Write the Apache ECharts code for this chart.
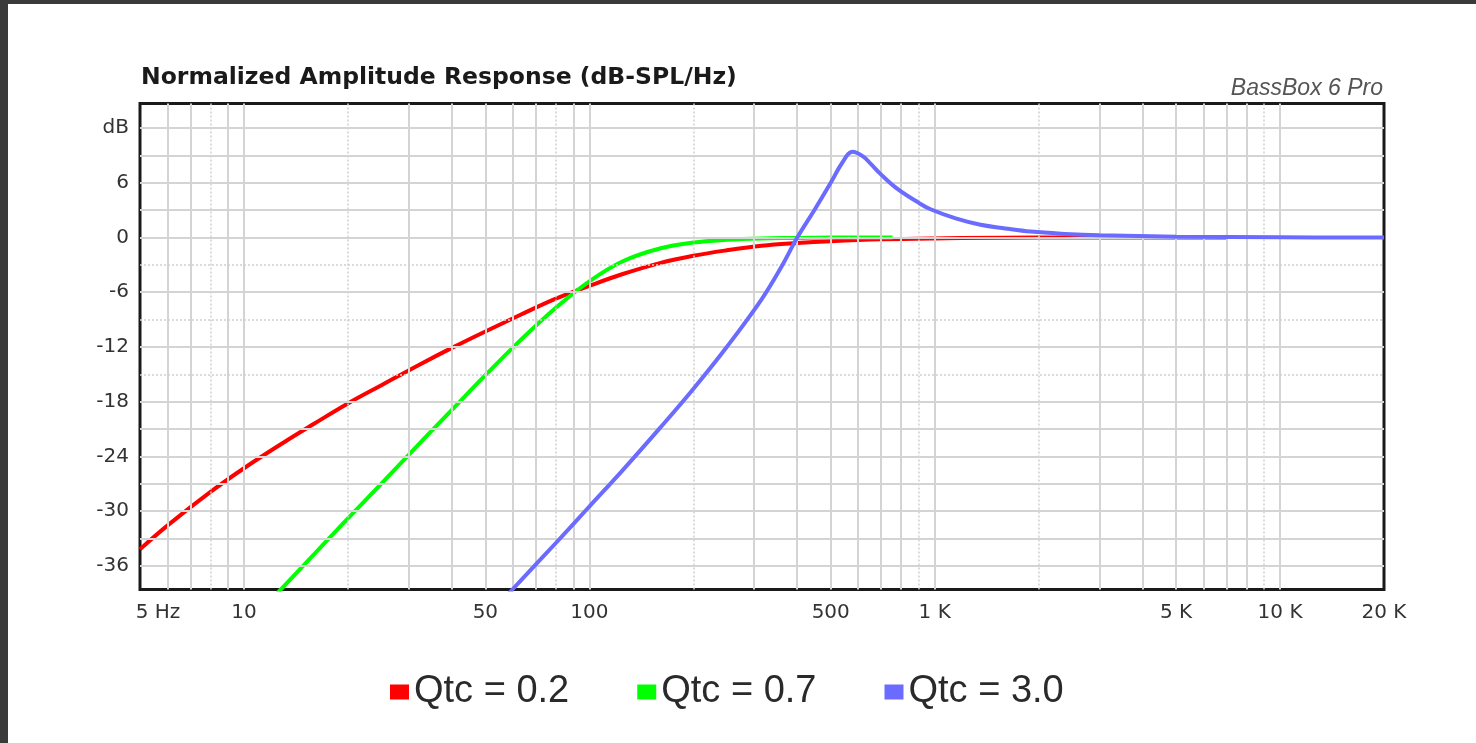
<!DOCTYPE html>
<html>
<head>
<meta charset="utf-8">
<script src="https://cdn.jsdelivr.net/npm/echarts@6/dist/echarts.min.js"></script>
<style>
  html, body { margin: 0; padding: 0; background: #3a3a3a; overflow: hidden; }
  #chart { position: absolute; left: 8px; top: 4px; width: 1468px; height: 739px; background: #fff; }
</style>
</head>
<body>
<div id="chart"></div>
<script>
// frequency (Hz) / level (dB)
const redFreq = [5, 6, 8, 10, 13, 16, 20, 25, 32, 40, 50, 63, 80, 100, 125, 160, 200, 250, 315, 400, 500, 700, 1000, 2000, 4000, 7000]
const redDb = [-34.2, -31.6, -27.9, -25.3, -22.5, -20.4, -18.2, -16.2, -14.0, -12.1, -10.3, -8.5, -6.7, -5.3, -4.0, -2.8, -2.0, -1.4, -0.9, -0.6, -0.4, -0.2, -0.1, 0, 0, 0]

const greenFreq = [12, 13, 16, 20, 25, 32, 40, 50, 63, 80, 100, 125, 160, 200, 250, 315, 400, 500, 755]
const greenDb = [-39.7, -38.3, -34.7, -30.8, -27.0, -22.7, -18.9, -15.1, -11.3, -7.7, -4.8, -2.6, -1.2, -0.55, -0.25, -0.1, -0.05, 0, 0]

const blueFreq = [56, 63, 80, 100, 125, 160, 200, 250, 315, 360, 400, 450, 500, 540, 578, 620, 652, 700, 782, 900, 973, 1150, 1358, 1600, 1897, 2383, 3000, 5000, 10000, 20000]
const blueDb = [-39.8, -37.7, -33.5, -29.5, -25.5, -20.9, -16.6, -12.0, -6.8, -3.2, 0, 3.1, 6.0, 8.2, 9.4, 8.9, 8.1, 6.9, 5.3, 3.8, 3.1, 2.1, 1.4, 1.0, 0.65, 0.4, 0.25, 0.1, 0.03, 0]

const seriesNames = ['Qtc = 0.2', 'Qtc = 0.7', 'Qtc = 3.0']
const seriesColors = ['#ff0000', '#00ff00', '#6b6bff']

// axis labels
const xLabelValues = [5, 10, 50, 100, 500, 1000, 5000, 10000, 20000]
const xLabelText = ['5 Hz', '10', '50', '100', '500', '1 K', '5 K', '10 K', '20 K']
const yLabelValues = [12, 6, 0, -6, -12, -18, -24, -30, -36]

// grid lines
const xGridFreq = [6, 7, 8, 9, 10, 20, 30, 40, 50, 60, 70, 80, 90, 100, 200, 300, 400, 500, 600, 700, 800, 900,
  1000, 2000, 3000, 4000, 5000, 6000, 7000, 8000, 9000, 10000]
const xGridDotted = [8, 20, 80, 200, 900, 2000, 9000]
const yGridDb = [12, 9, 6, 3, 0, -3, -6, -9, -12, -15, -18, -21, -24, -27, -30, -33, -36]
const yGridDotted = [-3, -9, -15]

const pairs = (xs, ys) => xs.map((x, i) => [x, ys[i]])

const chart = echarts.init(document.getElementById('chart'))

const gridSolid = { color: '#d4d4d4', width: 2, type: 'solid' }
const gridDot = { color: '#d0d0d0', width: 1.5, type: [2, 2] }
const axisFont = { fontFamily: 'DejaVu Sans', fontSize: 20, color: '#333' }

const markData = [
  ...xGridFreq.map(f => ({ xAxis: f, lineStyle: xGridDotted.includes(f) ? gridDot : gridSolid })),
  ...yGridDb.map(d => ({ yAxis: d, lineStyle: yGridDotted.includes(d) ? gridDot : gridSolid })),
]

// frequency labels hung under the plot on invisible vertical marker lines
const xLabelMarks = xLabelValues.map((f, i) => ({
  xAxis: f,
  lineStyle: { color: 'rgba(255,255,255,0)', width: 1, opacity: 1 },
  label: {
    show: true,
    position: 'start',
    distance: 13,
    formatter: xLabelText[i],
    offset: i === 0 ? [18, 0] : [0, 0],
    opacity: 1,
    ...axisFont,
  },
}))

const curves = [pairs(redFreq, redDb), pairs(greenFreq, greenDb), pairs(blueFreq, blueDb)]

chart.setOption({
  animation: false,
  title: [
    {
      text: 'Normalized Amplitude Response (dB-SPL/Hz)',
      left: 133,
      top: 62,
      padding: 0,
      textStyle: { fontFamily: 'DejaVu Sans', fontWeight: 'bold', fontSize: 23.5, color: '#1a1a1a' },
    },
    {
      text: 'BassBox 6 Pro',
      right: 93,
      top: 73,
      padding: 0,
      textStyle: { fontFamily: 'Liberation Sans', fontStyle: 'italic', fontWeight: 'normal', fontSize: 23, color: '#555' },
    },
  ],
  grid: {
    left: 132, right: 92, top: 99.5, bottom: 153.5,
    show: true, borderColor: '#1a1a1a', borderWidth: 3, backgroundColor: '#fff',
    outerBoundsMode: 'none',
  },
  legend: {
    data: seriesNames,
    left: 382,
    top: 669,
    padding: 0,
    icon: 'rect',
    itemWidth: 19,
    itemHeight: 15,
    itemGap: 68,
    textStyle: { fontFamily: 'Liberation Sans', fontSize: 38, color: '#2a2a2a' },
  },
  xAxis: {
    type: 'log',
    logBase: 10,
    min: 5,
    max: 20000,
    axisLine: { show: false },
    axisTick: { show: false },
    splitLine: { show: false },
    minorSplitLine: { show: false },
    axisLabel: { show: false },
  },
  yAxis: {
    type: 'value',
    min: -38.6,
    max: 14.7,
    axisLine: { show: false },
    axisTick: { show: false },
    splitLine: { show: false },
    axisLabel: {
      customValues: yLabelValues,
      formatter: v => (v === 12 ? 'dB' : String(v)),
      margin: 11,
      ...axisFont,
    },
  },
  series: [
    {
      type: 'line',
      name: '_grid',
      data: [],
      z: 1,
      silent: true,
      markLine: {
        silent: true,
        symbol: ['none', 'none'],
        label: { show: false },
        emphasis: { disabled: true },
        animation: false,
        data: markData,
      },
    },
    {
      type: 'line',
      name: '_xlabels',
      data: [],
      z: 2,
      silent: true,
      markLine: {
        silent: true,
        symbol: ['none', 'none'],
        emphasis: { disabled: true },
        animation: false,
        data: xLabelMarks,
      },
    },
    ...curves.map((d, i) => ({
      type: 'line',
      name: seriesNames[i],
      data: d,
      z: 3 + i,
      smooth: 0.4,
      showSymbol: false,
      symbol: 'none',
      clip: true,
      lineStyle: { color: seriesColors[i], width: 4 },
      itemStyle: { color: seriesColors[i] },
    })),
  ],
})

window.addEventListener('resize', () => chart.resize())
</script>
</body>
</html>
